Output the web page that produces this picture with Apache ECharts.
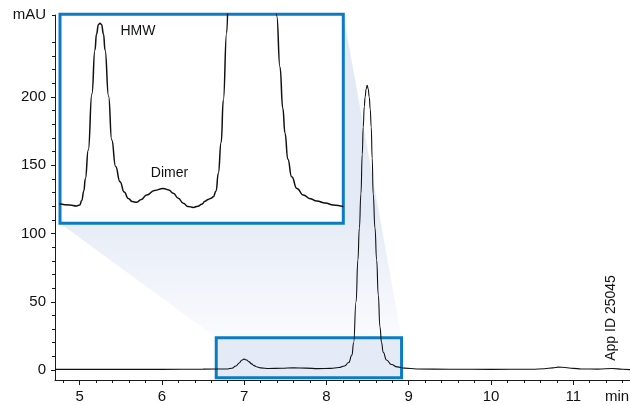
<!DOCTYPE html>
<html><head><meta charset="utf-8">
<script src="https://cdn.jsdelivr.net/npm/echarts@6/dist/echarts.min.js"></script>
<style>html,body{margin:0;padding:0;background:#fff}#c{width:630px;height:405px}</style>
</head><body><div id="c"></div>
<script>
// ---- data ----
const mainTime   = [4.7, 5.5, 6.0, 6.5, 6.8, 6.85, 6.9, 6.94, 6.97, 7.0, 7.03, 7.06, 7.09, 7.12, 7.16, 7.2, 7.3, 7.45, 7.6, 7.75, 7.9, 8.05, 8.15, 8.22, 8.27, 8.31, 8.33, 8.36, 8.382, 8.40, 8.419, 8.435, 8.447, 8.46, 8.47, 8.483, 8.495, 8.507, 8.52, 8.532, 8.544, 8.556, 8.568, 8.59, 8.61, 8.63, 8.65, 8.67, 8.69, 8.73, 8.79, 8.86, 8.95, 9.1, 9.5, 10.0, 10.5, 10.65, 10.75, 10.82, 10.9, 11.0, 11.1, 11.3, 11.48, 11.6, 11.69];
const mainSignal = [0.5, 0.5, 0.5, 0.7, 0.8, 1.3, 3.0, 5.2, 7.2, 8.0, 7.3, 6.0, 4.5, 3.2, 2.2, 1.6, 1.1, 1.3, 1.6, 1.4, 1.0, 1.2, 1.8, 3.0, 5.5, 11, 20, 50, 80.5, 104, 129, 158, 178, 193, 200, 206, 208.5, 206, 200, 191, 178, 155, 129, 104, 80.5, 55, 31.7, 20, 13, 7.3, 4.0, 2.3, 1.4, 0.8, 0.6, 0.5, 0.6, 0.9, 1.6, 2.1, 1.9, 1.2, 0.8, 0.7, 1.1, 0.6, 0.3];

const insetTime   = [6.60, 6.70, 6.769, 6.80, 6.819, 6.84, 6.855, 6.884, 6.92, 6.95, 6.965, 6.985, 7.0, 7.015, 7.035, 7.05, 7.085, 7.116, 7.155, 7.198, 7.24, 7.28, 7.32, 7.363, 7.41, 7.462, 7.54, 7.627, 7.68, 7.726, 7.775, 7.825, 7.87, 7.924, 7.97, 8.007, 8.04, 8.072, 8.10, 8.122, 8.15, 8.171, 8.20, 8.221, 8.254, 8.28, 8.5, 8.72, 8.75, 8.782, 8.81, 8.832, 8.86, 8.898, 8.95, 9.013, 9.08, 9.146, 9.23, 9.31, 9.41];
const insetSignal = [0.97, 0.92, 0.88, 0.92, 1.1, 1.5, 2.0, 3.18, 5.5, 7.3, 7.95, 8.35, 8.4, 8.35, 7.95, 7.3, 5.4, 3.6, 2.5, 1.88, 1.45, 1.19, 1.06, 1.03, 1.15, 1.33, 1.52, 1.6, 1.54, 1.40, 1.2, 0.99, 0.86, 0.82, 0.87, 0.95, 1.07, 1.15, 1.2, 1.26, 1.5, 2.22, 3.5, 5.24, 8.0, 11, 40, 11, 8.7, 6.6, 4.9, 3.87, 2.8, 2.08, 1.6, 1.33, 1.18, 1.08, 1.0, 0.92, 0.85];

const xTickLabels = [5, 6, 7, 8, 9, 10, 11];
const yTickLabels = [0, 50, 100, 150, 200];
const zoomBoxTime   = [6.66, 8.913];
const zoomBoxSignal = [-5.7, 23.55];
const insetRangeTime   = [6.604, 9.409];
const insetRangeSignal = [0.165, 8.77];
const peakLabels = ['HMW', 'Dimer'];
const unitY = 'mAU', unitX = 'min', appId = 'App ID 25045';

// ---- axis extents ----
const X_MIN = 4.7, X_MAX = 11.69, Y_MIN = -7.3, Y_MAX = 260;
const xMinor = [];
for (let i = 48; i <= 116; i += 2) { if (i % 10 !== 0) xMinor.push(i / 10); }
const yMinor = [];
for (let v = 10; v <= 260; v += 10) { if (v % 50 !== 0) yMinor.push(v); }

const FONT = 'Liberation Sans';
const AX = '#1a1a1a';
const BLUE = '#0b7cc3';

const chart = echarts.init(document.getElementById('c'), null, {renderer: 'canvas'});

const option = {
  animation: false,
  backgroundColor: '#fff',
  grid: [
    {left: 55, right: 0, top: 15, bottom: 25, containLabel: false},
    {left: 60, top: 14.3, width: 283.3, height: 209, show: true, backgroundColor: '#fff',
     borderColor: BLUE, borderWidth: 3, z: 5}
  ],
  xAxis: [
    {type: 'value', gridIndex: 0, min: X_MIN, max: X_MAX, position: 'bottom',
     axisLine: {show: true, onZero: false, lineStyle: {color: AX, width: 1}},
     axisTick: {show: true, customValues: xTickLabels, length: 5, lineStyle: {color: AX}},
     axisLabel: {customValues: xTickLabels, margin: 9, fontSize: 15, color: '#111', fontFamily: FONT},
     splitLine: {show: false}},
    {type: 'value', gridIndex: 0, min: X_MIN, max: X_MAX, position: 'bottom',
     axisLine: {show: false, onZero: false},
     axisTick: {show: true, customValues: xMinor, length: 3, lineStyle: {color: AX}},
     axisLabel: {show: false}, splitLine: {show: false}},
    {type: 'value', gridIndex: 1, min: insetRangeTime[0], max: insetRangeTime[1], show: false}
  ],
  yAxis: [
    {type: 'value', gridIndex: 0, min: Y_MIN, max: Y_MAX, position: 'left',
     axisLine: {show: true, onZero: false, lineStyle: {color: AX, width: 1}},
     axisTick: {show: true, customValues: yTickLabels, length: 4, lineStyle: {color: AX}},
     axisLabel: {customValues: yTickLabels.concat([Y_MAX]), margin: 9, fontSize: 15, color: '#111', fontFamily: FONT,
       formatter: v => (v === Y_MAX ? unitY : String(v))},
     splitLine: {show: false}},
    {type: 'value', gridIndex: 0, min: Y_MIN, max: Y_MAX, position: 'left',
     axisLine: {show: false, onZero: false},
     axisTick: {show: true, customValues: yMinor, length: 3, lineStyle: {color: AX}},
     axisLabel: {show: false}, splitLine: {show: false}},
    {type: 'value', gridIndex: 1, min: insetRangeSignal[0], max: insetRangeSignal[1], show: false}
  ],
  series: [
    {type: 'line', xAxisIndex: 0, yAxisIndex: 0, z: 2, showSymbol: false, symbol: 'none',
     smooth: 0.5, smoothMonotone: 'x',
     lineStyle: {color: '#111', width: 1.1},
     data: mainTime.map((t, i) => [t, mainSignal[i]])},
    {type: 'line', xAxisIndex: 2, yAxisIndex: 2, z: 6, showSymbol: false, symbol: 'none',
     smooth: 0.5, smoothMonotone: 'x', clip: true,
     lineStyle: {color: '#111', width: 1.5},
     data: insetTime.map((t, i) => [t, insetSignal[i]])}
  ]
};
chart.setOption(option);

// ---- zoom box + connecting funnel, positioned through the axes ----
const m = p => chart.convertToPixel({xAxisIndex: 0, yAxisIndex: 0}, p);
const n = p => chart.convertToPixel({xAxisIndex: 2, yAxisIndex: 2}, p);
const sTL = m([zoomBoxTime[0], zoomBoxSignal[1]]);
const sBR = m([zoomBoxTime[1], zoomBoxSignal[0]]);
const sTR = [sBR[0], sTL[1]];
const iTR = n([insetRangeTime[1], insetRangeSignal[1]]);
const iBL = n([insetRangeTime[0], insetRangeSignal[0]]);

chart.setOption({
  graphic: [
    {type: 'polygon', z: 0.5, silent: true,
     shape: {points: [iTR, iBL, sTL, sTR]},
     style: {fill: new echarts.graphic.LinearGradient(0, 0, 0, 1, [
       {offset: 0, color: '#e2e9f5'}, {offset: 0.62, color: '#e5ebf6'}, {offset: 1, color: '#fafbfe'}])}},
    {type: 'rect', z: 1, silent: true,
     shape: {x: sTL[0], y: sTL[1], width: sBR[0] - sTL[0], height: sBR[1] - sTL[1]},
     style: {fill: '#e4eaf6', stroke: BLUE, lineWidth: 3}},
    {type: 'text', z: 10, silent: true,
     style: {text: peakLabels[0], x: 138, y: 31, align: 'center', verticalAlign: 'middle', fontSize: 14, fontFamily: FONT, fill: '#111'}},
    {type: 'text', z: 10, silent: true,
     style: {text: peakLabels[1], x: 169.5, y: 173, align: 'center', verticalAlign: 'middle', fontSize: 14, fontFamily: FONT, fill: '#111'}},
    {type: 'text', z: 10, silent: true,
     style: {text: unitX, x: 605, y: 396.5, align: 'left', verticalAlign: 'middle', fontSize: 15, fontFamily: FONT, fill: '#111'}},
    {type: 'text', z: 10, silent: true, x: 611.5, y: 318, rotation: Math.PI / 2,
     style: {text: appId, x: 0, y: 0, align: 'center', verticalAlign: 'middle', fontSize: 14, fontFamily: FONT, fill: '#111'}}
  ]
});
</script>
</body></html>
